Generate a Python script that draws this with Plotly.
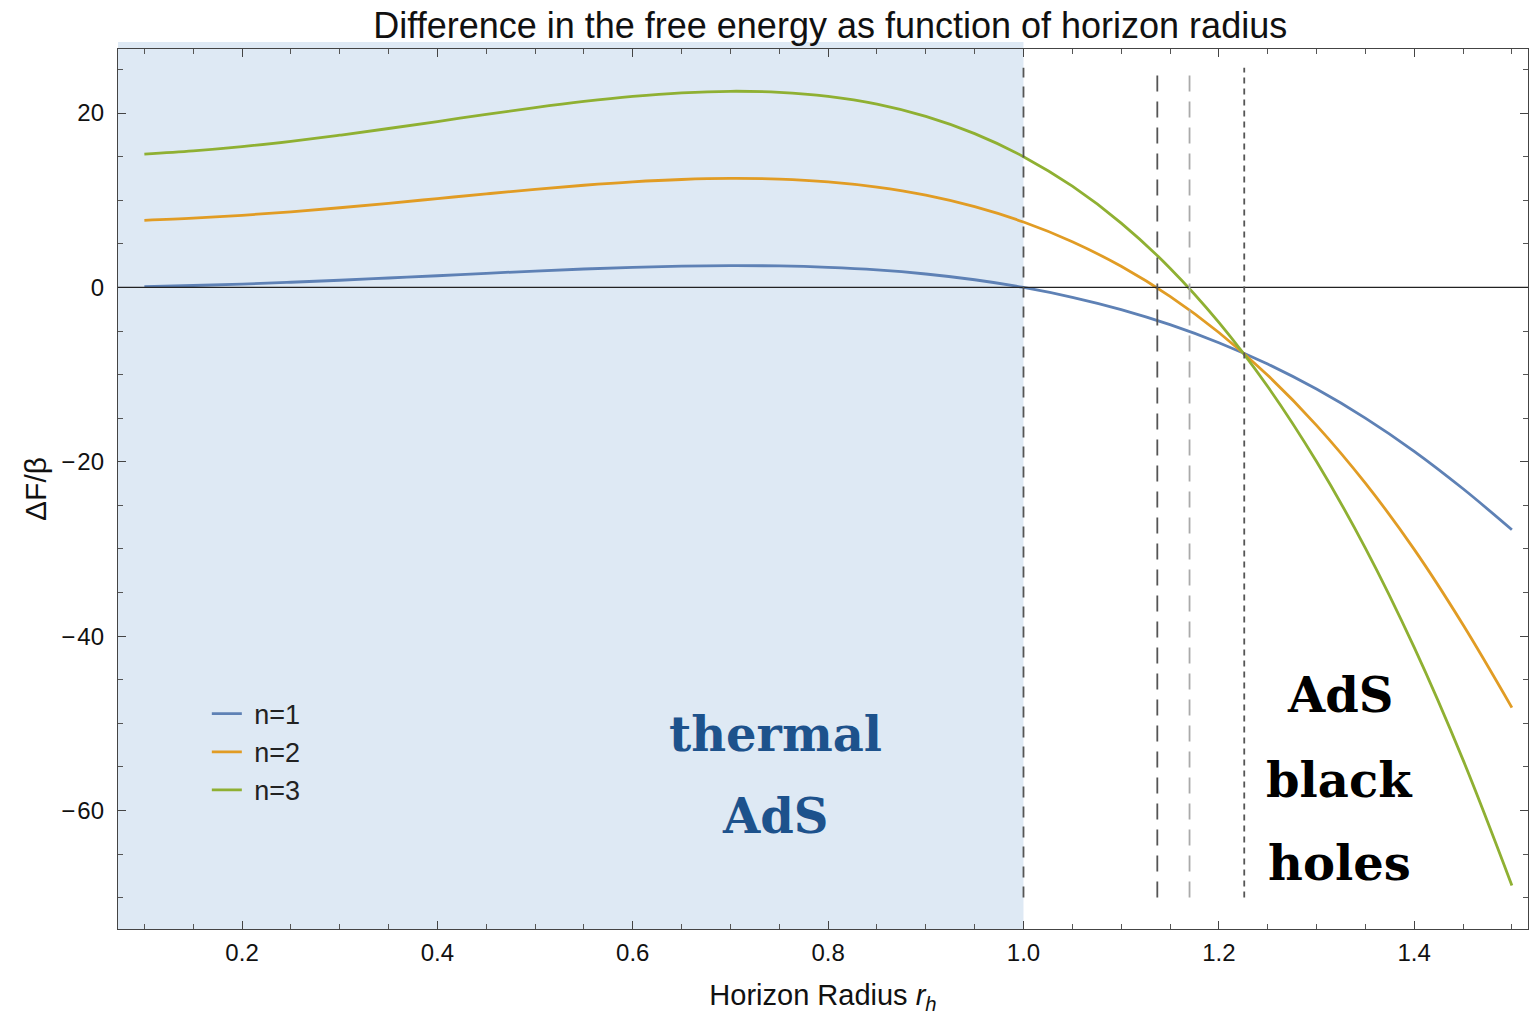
import plotly.graph_objects as go

# ---- data ----
r_h = [0.10, 0.15, 0.20, 0.25, 0.30, 0.35, 0.40, 0.45, 0.50, 0.55, 0.60, 0.65, 0.70,
       0.75, 0.80, 0.85, 0.90, 0.95, 1.00, 1.05, 1.10, 1.15, 1.20, 1.25, 1.30, 1.35,
       1.40, 1.45, 1.50]
dF_n1 = [0.10, 0.22, 0.38, 0.59, 0.82, 1.08, 1.34, 1.62, 1.88, 2.11, 2.30, 2.44, 2.50,
         2.46, 2.30, 2.01, 1.54, 0.88, 0.00, -1.13, -2.54, -4.27, -6.34, -8.79, -11.66,
         -14.99, -18.80, -23.10, -27.8]
dF_n2 = [7.70, 7.94, 8.27, 8.67, 9.14, 9.65, 10.19, 10.73, 11.25, 11.72, 12.11, 12.38,
         12.50, 12.42, 12.11, 11.51, 10.58, 9.26, 7.50, 5.24, 2.42, -1.03, -5.17, -10.08,
         -15.82, -22.45, -30.05, -38.70, -48.2]
dF_n3 = [15.30, 15.66, 16.15, 16.76, 17.46, 18.23, 19.03, 19.85, 20.63, 21.33, 21.91,
         22.32, 22.50, 22.38, 21.91, 21.02, 19.62, 17.64, 15.00, 11.61, 7.38, 2.21, -4.01,
         -11.37, -19.98, -29.90, -41.30, -54.20, -68.6]
series_names = ["n=1", "n=2", "n=3"]
series_colors = ["#5E81B5", "#E19C24", "#8FB032"]

# transition radii (vertical dashed markers)
transition_r = [1.0, 1.137, 1.17, 1.226]
transition_dash = ["11px,9px", "16px,10px", "16px,10px", "6px,5px"]
transition_color = ["#555555", "#555555", "#AAAAAA", "#555555"]

x_ticks = [0.2, 0.4, 0.6, 0.8, 1.0, 1.2, 1.4]
x_ticktext = ["0.2", "0.4", "0.6", "0.8", "1.0", "1.2", "1.4"]
y_ticks = [-60, -40, -20, 0, 20]
y_ticktext = ["\u2212\u200a60", "\u2212\u200a40", "\u2212\u200a20", "0", "20"]

x_range = [0.073, 1.5165]
y_range = [-73.6, 27.35]

fig = go.Figure()

for i, (name, ys) in enumerate(zip(series_names, [dF_n1, dF_n2, dF_n3])):
    fig.add_trace(go.Scatter(
        x=r_h, y=ys, mode="lines", name=" " + name, legendgroup=name,
        line=dict(color=series_colors[i], width=2.8, shape="spline", smoothing=1.0),
    ))

# shaded thermal AdS region
fig.add_shape(type="rect", xref="x", yref="paper", x0=x_range[0], x1=transition_r[0],
              y0=0, y1=1.008, fillcolor="#DEE9F4", line=dict(width=0), layer="below")

# zero line
fig.add_shape(type="line", xref="paper", yref="y", x0=0, x1=1, y0=0, y1=0,
              line=dict(color="#222222", width=1.2))

# vertical dashed lines
for xv, ds, col in zip(transition_r, transition_dash, transition_color):
    fig.add_shape(type="line", xref="x", yref="y", x0=xv, x1=xv, y0=-70, y1=25.2,
                  line=dict(color=col, width=1.8, dash=ds))

# annotations
ann_font_blue = dict(family="DejaVu Serif", size=48, color="#1D528C")
ann_font_black = dict(family="DejaVu Serif", size=48, color="#000000")
fig.add_annotation(x=0.7457, y=-51.2, xref="x", yref="y", text="<b>thermal</b>",
                   showarrow=False, font=ann_font_blue)
fig.add_annotation(x=0.7457, y=-60.6, xref="x", yref="y", text="<b>AdS</b>",
                   showarrow=False, font=ann_font_blue)
fig.add_annotation(x=1.324, y=-46.8, xref="x", yref="y", text="<b>AdS</b>",
                   showarrow=False, font=ann_font_black)
fig.add_annotation(x=1.324, y=-56.5, xref="x", yref="y", text="<b>black</b>",
                   showarrow=False, font=ann_font_black)
fig.add_annotation(x=1.324, y=-66.0, xref="x", yref="y", text="<b>holes</b>",
                   showarrow=False, font=ann_font_black)

axis_common = dict(
    showline=True, linecolor="#444444", linewidth=1.3, mirror="allticks",
    ticks="inside", tickcolor="#444444", ticklen=8, tickwidth=1.2,
    showgrid=False, zeroline=False,
    tickfont=dict(family="Liberation Sans", size=24, color="#111111"),
)

fig.update_layout(
    width=1529, height=1015,
    margin=dict(l=118, r=1, t=49, b=86),
    plot_bgcolor="rgba(0,0,0,0)", paper_bgcolor="white",
    title=dict(text="Difference in the free energy as function of horizon radius",
               x=0.543, xanchor="center", y=0.975, yanchor="middle",
               font=dict(family="Liberation Sans", size=36, color="#111111")),
    xaxis=dict(range=x_range, tickvals=x_ticks, ticktext=x_ticktext,
               ticklabelstandoff=2,
               minor=dict(dtick=0.05, tick0=0, ticks="inside", ticklen=5,
                          tickcolor="#555555", tickwidth=1),
               title=dict(text="Horizon Radius <i>r</i><sub><i>h</i></sub>", standoff=21,
                          font=dict(family="Liberation Sans", size=29, color="#111111")),
               **axis_common),
    yaxis=dict(range=y_range, tickvals=y_ticks, ticktext=y_ticktext,
               ticklabelstandoff=8,
               minor=dict(dtick=5, tick0=0, ticks="inside", ticklen=5,
                          tickcolor="#555555", tickwidth=1),
               title=dict(text="\u0394F/\u03b2", standoff=5,
                          font=dict(family="Liberation Sans", size=30, color="#111111")),
               **axis_common),
    legend=dict(x=0.063, y=0.272, xanchor="left", yanchor="top",
                bgcolor="rgba(0,0,0,0)", font=dict(family="Liberation Sans", size=27, color="#222222"),
                tracegroupgap=0, itemwidth=30),
    showlegend=True,
)

fig.write_html("out.html")
